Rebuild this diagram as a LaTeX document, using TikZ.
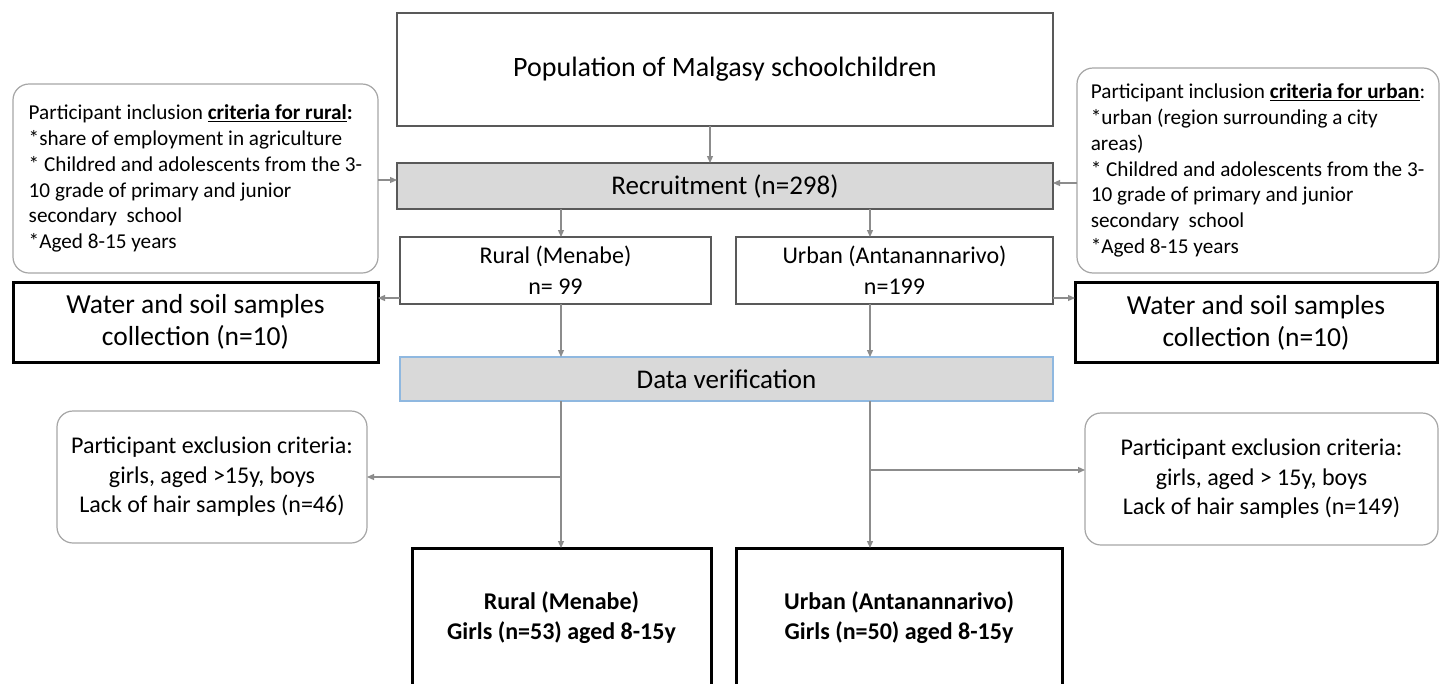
\documentclass[tikz,border=0pt]{standalone}
\usepackage{fontspec}
\setmainfont{Carlito}
\usetikzlibrary{arrows.meta}
\definecolor{conn}{HTML}{8C8C8C}
\definecolor{boxline}{HTML}{595959}
\definecolor{roundline}{HTML}{A6A6A6}
\definecolor{fillgray}{HTML}{D9D9D9}
\definecolor{blueline}{HTML}{8FB8E0}
\begin{document}
\begin{tikzpicture}[x=1pt,y=-1pt,
  base/.style={rectangle, inner sep=0pt, outer sep=0pt, align=center, text=black},
  plainbox/.style={base, draw=boxline, line width=1.2pt},
  graybox/.style={base, draw=boxline, line width=1.2pt, fill=fillgray},
  bluebox/.style={base, draw=blueline, line width=1.2pt, fill=fillgray},
  thickbox/.style={base, draw=black, line width=3pt},
  roundbox/.style={base, draw=roundline, line width=1.2pt, rounded corners=16pt},
  critbox/.style={roundbox, align=left, font=\fontsize{21.2}{25.8}\selectfont},
  arr/.style={draw=conn, line width=1.2pt, -{Triangle[length=7pt,width=6pt]}},
  bigtext/.style={font=\fontsize{27.5}{32}\selectfont},
  midtext/.style={font=\fontsize{24}{31}\selectfont},
  extext/.style={font=\fontsize{24}{29.5}\selectfont},
  fintext/.style={font=\fontsize{24}{30}\selectfont\bfseries}
]
\path[use as bounding box, clip] (0,0) rectangle (1440,683);
\fill[white] (0,0) rectangle (1440,683);

\node[plainbox, font=\fontsize{28}{34}\selectfont, minimum width=656, minimum height=113] (pop) at (725,69.5) {Population of Malgasy schoolchildren};
\node[graybox, font=\fontsize{27}{32}\selectfont, minimum width=656, minimum height=46] (rec) at (725,186) {Recruitment (n=298)};

\node[critbox, minimum width=365, minimum height=189] (inclL) at (195.5,178.5)
 {Participant inclusion \underline{\textbf{criteria for rural}}\textbf{:}\\
  {*}share of employment in agriculture\\
  {*} Childred and adolescents from the 3-\\
  10 grade of primary and junior\\
  secondary\ \ school\\
  {*}Aged 8-15 years};
\node[critbox, minimum width=362, minimum height=205] (inclR) at (1258,170.5)
 {Participant inclusion \underline{\textbf{criteria for urban}}:\\
  {*}urban (region surrounding a city\\
  areas)\\
  {*} Childred and adolescents from the 3-\\
  10 grade of primary and junior\\
  secondary\ \ school\\
  {*}Aged 8-15 years};

\node[plainbox, midtext, minimum width=311, minimum height=67] (rural) at (555.5,270.5) {Rural (Menabe)\\n= 99};
\node[plainbox, midtext, minimum width=317, minimum height=67] (urban) at (894.5,270.5) {Urban (Antanannarivo)\\n=199};

\node[thickbox, bigtext, minimum width=365, minimum height=80] (waterL) at (195.5,322) {Water and soil samples\\collection (n=10)};
\node[thickbox, bigtext, minimum width=362, minimum height=80] (waterR) at (1256,322.5) {Water and soil samples\\collection (n=10)};

\node[bluebox, font=\fontsize{27}{32}\selectfont, minimum width=653, minimum height=44] (dv) at (726.5,379) {Data verification};

\node[roundbox, extext, minimum width=310, minimum height=132] (exL) at (212,477)
 {Participant exclusion criteria:\\girls, aged >15y, boys\\Lack of hair samples (n=46)};
\node[roundbox, extext, minimum width=353, minimum height=132] (exR) at (1261.5,479)
 {Participant exclusion criteria:\\girls, aged > 15y, boys\\Lack of hair samples (n=149)};

\node[thickbox, fintext, minimum width=299, minimum height=140] (finL) at (561.5,618)
 {Rural (Menabe)\\Girls (n=53) aged 8-15y};
\node[thickbox, fintext, minimum width=326, minimum height=140] (finR) at (899,618)
 {Urban (Antanannarivo)\\Girls (n=50) aged 8-15y};

% connectors
\draw[arr] (710,0 |- pop.south) -- (710,0 |- rec.north);
\draw[arr] (inclL.east |- 0,180) -- (rec.west |- 0,180);
\draw[arr] (inclR.west |- 0,183) -- (rec.east |- 0,183);
\draw[arr] (561,0 |- rec.south) -- (561,0 |- rural.north);
\draw[arr] (870,0 |- rec.south) -- (870,0 |- urban.north);
\draw[arr] (rural.west |- 0,298) -- (waterL.east |- 0,298);
\draw[arr] (urban.east |- 0,298) -- (waterR.west |- 0,298);
\draw[arr] (561,0 |- rural.south) -- (561,0 |- dv.north);
\draw[arr] (870,0 |- urban.south) -- (870,0 |- dv.north);
\draw[arr] (561,0 |- dv.south) -- (561,0 |- finL.north);
\draw[arr] (870,0 |- dv.south) -- (870,0 |- finR.north);
\coordinate (jL) at (561,477);
\coordinate (jR) at (870,470);
\draw[arr] (jL) -- (exL.east |- jL);
\draw[arr] (jR) -- (exR.west |- jR);
\end{tikzpicture}
\end{document}
